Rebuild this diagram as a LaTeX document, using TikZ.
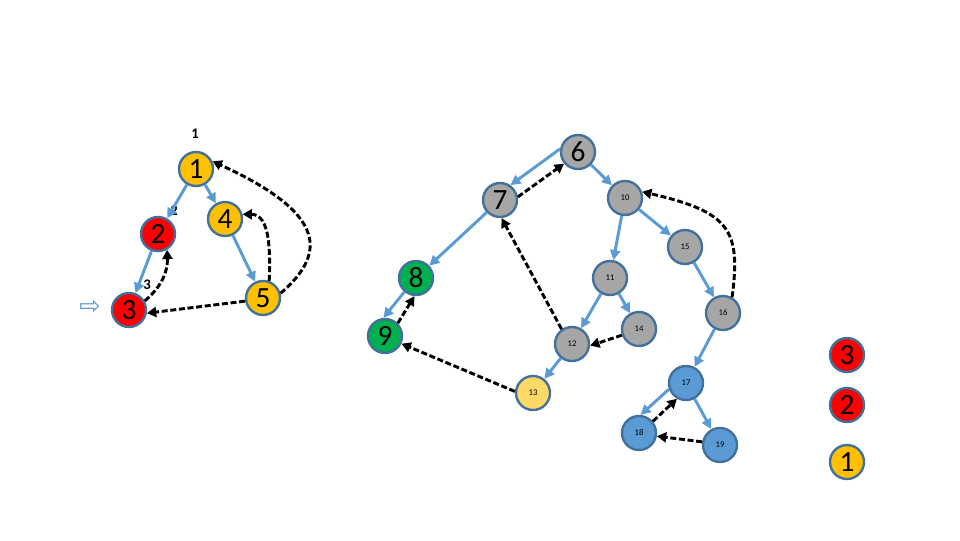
\documentclass[tikz,border=0pt]{standalone}
\usepackage{fontspec}
\setmainfont{Carlito}
\newfontfamily\symfont{DejaVu Sans}
\usetikzlibrary{arrows.meta}
\definecolor{bd}{HTML}{41719C}
\definecolor{eb}{HTML}{5B9BD5}
\definecolor{org}{HTML}{FFC000}
\definecolor{rd}{HTML}{FF0000}
\definecolor{gy}{HTML}{A6A6A6}
\definecolor{gr}{HTML}{00B050}
\definecolor{ly}{HTML}{FFD966}
\definecolor{bl}{HTML}{5B9BD5}
\tikzset{
  vtx/.style={circle, draw=bd, line width=1.8pt, minimum size=25.5pt, inner sep=0pt},
  big/.style={vtx, font=\fontsize{22}{22}\selectfont},
  sml/.style={vtx, font=\fontsize{6.5}{6.5}\selectfont},
  lbl/.style={font=\fontsize{11}{11}\selectfont\bfseries, inner sep=0pt},
  tree/.style={draw=eb, line width=2.2pt, -{Triangle[length=7.5pt,width=7.5pt]}},
  back/.style={draw=black, line width=2.2pt, dash pattern=on 4.5pt off 2pt, -{Triangle[length=7pt,width=7.5pt]}}
}
\begin{document}
\begin{tikzpicture}[x=0.75pt,y=-0.75pt]
\useasboundingbox (0,0) rectangle (960,540);
% left component
\node[big, fill=org] (n1) at (196,169) {1};
\node[big, fill=rd]  (n2) at (158,234) {2};
\node[big, fill=org] (n4) at (225,219) {4};
\node[big, fill=rd]  (n3) at (129,310) {3};
\node[big, fill=org] (n5) at (263,298) {5};
\node[lbl] (l1) at (195,134) {1};
\node[lbl] (l2) at (174,211) {2};
\node[lbl] (l3) at (147,285) {3};
\node[inner sep=0pt, text=eb, font=\symfont\fontsize{19}{19}\selectfont] (ar) at (90,307) {⇨};
\draw[tree] (n1) -- (n2);
\draw[tree] (n1) -- (n4);
\draw[tree] (n2) -- (n3);
\draw[tree] (n4) -- (n5);
\draw[back] (n3.30) to[out=40,in=-88] (n2.-60);
\draw[back] (n5.70) to[out=88,in=0] (n4.15);
\draw[back] (n5.15) .. controls (325,255) and (330,215) .. (n1.25);
\draw[back] (n5.190) -- (n3.-10);
% right component
\node[big, fill=gy] (n6) at (578,152) {6};
\node[big, fill=gy] (n7) at (500,200) {7};
\node[big, fill=gr] (n8) at (416,278) {8};
\node[big, fill=gr] (n9) at (385,336) {9};
\node[sml, fill=gy] (n10) at (625,198) {10};
\node[sml, fill=gy] (n11) at (610,278) {11};
\node[sml, fill=gy] (n12) at (572,344) {12};
\node[sml, fill=ly] (n13) at (533,393) {13};
\node[sml, fill=gy] (n14) at (639,329) {14};
\node[sml, fill=gy] (n15) at (685,247) {15};
\node[sml, fill=gy] (n16) at (723,313) {16};
\node[sml, fill=bl] (n17) at (686,383) {17};
\node[sml, fill=bl] (n18) at (639,433) {18};
\node[sml, fill=bl] (n19) at (720,445) {19};
\draw[tree] (n6.170) -- (n7.55);
\draw[back] (n7.10) -- (n6.220);
\draw[tree] (n6) -- (n10);
\draw[tree] (n7) -- (n8);
\draw[tree] (n8.230) -- (n9.95);
\draw[back] (n9.45) -- (n8.265);
\draw[tree] (n10) -- (n11);
\draw[tree] (n10) -- (n15);
\draw[tree] (n11) -- (n12);
\draw[tree] (n11) -- (n14);
\draw[tree] (n12) -- (n13);
\draw[tree] (n15) -- (n16);
\draw[tree] (n16) -- (n17);
\draw[tree] (n17.200) -- (n18.85);
\draw[back] (n18.40) -- (n17.240);
\draw[tree] (n17) -- (n19);
\draw[back] (n12.125) -- (n7.-85);
\draw[back] (n13.175) -- (n9.-25);
\draw[back] (n14.200) -- (n12.-5);
\draw[back] (n19.170) -- (n18.-10);
\draw[back] (n16.60) .. controls (741,230) and (730,212) .. (n10.20);
% legend
\node[big, fill=rd]  (g3) at (847,355) {3};
\node[big, fill=rd]  (g2) at (847,405) {2};
\node[big, fill=org] (g1) at (847,462) {1};
\end{tikzpicture}
\end{document}
